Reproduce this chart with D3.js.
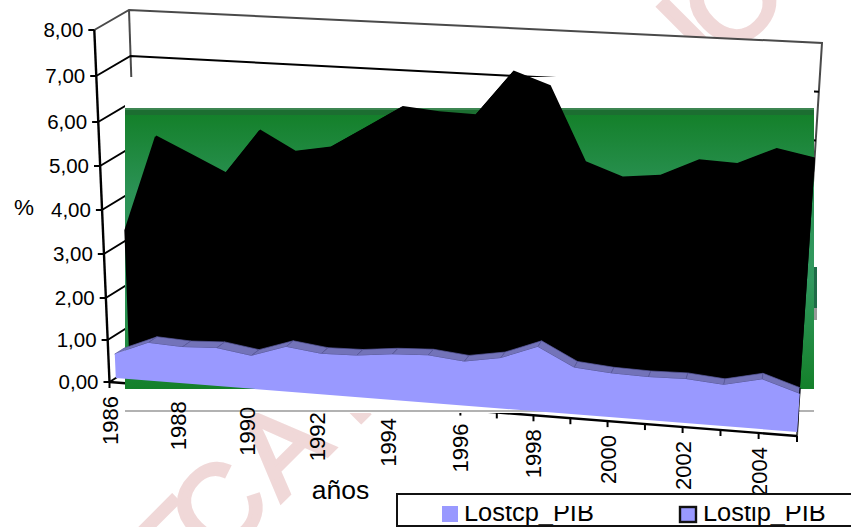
<!DOCTYPE html>
<html>
<head>
<meta charset="utf-8">
<script src="https://cdn.jsdelivr.net/npm/d3@7/dist/d3.min.js"></script>
<style>
  html, body { margin: 0; padding: 0; background: #fff; }
  svg { display: block; }
  text { font-family: "Liberation Sans", Arial, sans-serif; fill: #000; }
</style>
</head>
<body>
<script>
const years = d3.range(1986, 2006);
const labelledYears = years.filter(y => y % 2 === 0);
const valueTicks = [0, 1, 2, 3, 4, 5, 6, 7, 8];
const valueTickLabels = ["0,00", "1,00", "2,00", "3,00", "4,00", "5,00", "6,00", "7,00", "8,00"];
const lostipPib = [3.25, 5.43, 5.06, 4.69, 5.70, 5.27, 5.41, 5.90, 6.38, 6.31, 6.29, 7.25, 6.98, 5.41, 5.12, 5.21, 5.59, 5.56, 5.93, 5.77];
const lostcpPib = [0.57, 0.90, 0.86, 0.90, 0.78, 1.05, 0.95, 0.97, 1.06, 1.10, 1.02, 1.16, 1.48, 1.07, 1.00, 0.98, 1.00, 0.93, 1.12, 0.86];
const legendNames = ["Lostcp_PIB", "Lostip_PIB"];
const stampLetters = ["E", "C", "A", "I", "I", "O"];

const width = 851, height = 527;
const svg = d3.select("body").append("svg").attr("width", width).attr("height", height);

// Oblique box: a year, a value and a depth (0 front, 1 back wall) map to one screen point.
const along = d3.scaleLinear().domain([1986, 2005]).range([0, 1]);
const foreshorten = t => t - 0.064 * t * (1 - t);
const valueHeight = d3.scaleLinear().domain(valueTicks).range([0, 42, 84, 128, 172, 216, 260, 306, 352]);
const frontX = d3.scaleLinear().domain([0, 1]).range([109.5, 797]);
const backX = d3.scaleLinear().domain([0, 1]).range([141, 798]);
const frontY = d3.scaleLinear().domain([0, 1]).range([382, 436]);
const backY = d3.scaleLinear().domain([0, 1]).range([362, 416]);

function project(year, value, depth) {
  const s = foreshorten(along(year));
  const lean = (-1.9 + 0.4 * depth) * (1 - s) + 3 * s;
  return [
    frontX(s) + (backX(s) - frontX(s)) * depth + value * lean,
    frontY(s) + (backY(s) - frontY(s)) * depth - valueHeight(value) * (1 + 0.06 * s)
  ];
}

const path = d3.line();
const lineColor = "#000";
const frameColor = "#4a4a4a";

// Pale diagonal stamp behind the chart
const stampAt = [[206, 574], [246, 535], [308, 475], [365, 418], [718, 59], [761, 28]];
svg.append("g").selectAll("text").data(stampLetters).join("text")
  .attr("transform", (d, i) => `translate(${stampAt[i]}) rotate(-45)`)
  .attr("text-anchor", "middle")
  .style("font-size", "115px")
  .style("fill", "#f0d8d8")
  .style("stroke", "#f0d8d8")
  .style("stroke-width", 4)
  .text(d => d);

// White walls
const floorFront = [project(1986, 0, 0), project(2005, 0, 0)];
const wallOutline = [project(1986, 0, 0), project(1986, 8, 0), project(1986, 8, 1), project(2005, 8, 1), project(2005, 0, 1), project(2005, 0, 0)];
svg.append("path").attr("d", path(wallOutline) + "Z").attr("fill", "#fff");

// Wall frame
svg.append("path").attr("fill", "none").attr("stroke", frameColor).attr("stroke-width", 2)
  .attr("d", path([project(1986, 8, 0), project(1986, 8, 1), project(2005, 8, 1), project(2005, 0, 1), project(2005, 0, 0)]));
svg.append("path").attr("fill", "none").attr("stroke", frameColor).attr("stroke-width", 2)
  .attr("d", path([project(1986, 8, 1), project(1986, 0, 1)]));

// Gridlines running over the side wall and the back wall
const grid = valueTicks.filter(v => v > 0 && v < 8);
svg.append("g").selectAll("path").data(grid).join("path")
  .attr("fill", "none").attr("stroke", lineColor).attr("stroke-width", 2)
  .attr("d", v => path([project(1986, v, 0), project(1986, v, 1), project(2005, v, 1)]));
svg.append("path").attr("fill", "none").attr("stroke", lineColor).attr("stroke-width", 2)
  .attr("d", path([project(1986, 0, 0), project(1986, 0, 1)]));

// Value axis
svg.append("path").attr("fill", "none").attr("stroke", lineColor).attr("stroke-width", 2.4)
  .attr("d", path([project(1986, 0, 0), project(1986, 8, 0)]));
const yTicks = svg.append("g").selectAll("g").data(valueTicks).join("g")
  .attr("transform", v => `translate(${project(1986, v, 0)})`);
yTicks.append("line").attr("x1", -6).attr("x2", 0).attr("stroke", lineColor).attr("stroke-width", 2);
yTicks.append("text").attr("x", -11).attr("dy", "0.35em").attr("text-anchor", "end")
  .style("font-size", "20.5px").text((v, i) => valueTickLabels[i]);

// Year axis
svg.append("path").attr("fill", "none").attr("stroke", lineColor).attr("stroke-width", 2.4).attr("d", path(floorFront));
svg.append("g").selectAll("line").data(years).join("line")
  .attr("stroke", lineColor).attr("stroke-width", 2)
  .attr("x1", y => project(y, 0, 0)[0]).attr("x2", y => project(y, 0, 0)[0])
  .attr("y1", y => project(y, 0, 0)[1]).attr("y2", y => project(y, 0, 0)[1] + 6);

// White panel with the green plate on top of it
const defs = svg.append("defs");
const plate = defs.append("linearGradient").attr("id", "plate").attr("x1", 0).attr("x2", 0).attr("y1", 0).attr("y2", 1);
plate.append("stop").attr("offset", "0%").attr("stop-color", "#14802a");
plate.append("stop").attr("offset", "28%").attr("stop-color", "#2b9255");
plate.append("stop").attr("offset", "60%").attr("stop-color", "#31995f");
plate.append("stop").attr("offset", "100%").attr("stop-color", "#14802a");
svg.append("rect").attr("x", 125).attr("y", 77).attr("width", 689).attr("height", 336).attr("fill", "#fff");
svg.append("rect").attr("x", 125).attr("y", 114).attr("width", 689).attr("height", 275).attr("fill", "url(#plate)");
svg.append("rect").attr("x", 125).attr("y", 108).attr("width", 689).attr("height", 2).attr("fill", "#3d8652");
svg.append("rect").attr("x", 125).attr("y", 110).attr("width", 689).attr("height", 5).attr("fill", "#1c6e31");
svg.append("line").attr("x1", 125).attr("x2", 814).attr("y1", 411).attr("y2", 411).attr("stroke", "#999").attr("stroke-width", 1.4);
svg.append("rect").attr("x", 814).attr("y", 267).attr("width", 3).attr("height", 41).attr("fill", "#1f6b48");
svg.append("rect").attr("x", 814).attr("y", 308).attr("width", 3).attr("height", 12).attr("fill", "#999");

// Rear series: extruded black area
function areaOutline(values, depth) {
  return values.map((v, i) => project(years[i], v, depth))
    .concat([project(2005, 0, depth), project(1986, 0, depth)]);
}
svg.append("path").attr("fill", "#000").attr("d", path(areaOutline(lostipPib, 0.68)) + "Z");
svg.append("path").attr("fill", "#000").attr("d", path(areaOutline(lostipPib, 0.64)) + "Z");

// Front series: top surface strips, end cap and front face
const faceDepth = 0.2, ridgeDepth = 0.5;
svg.append("g").selectAll("path").data(d3.pairs(years.map((y, i) => [y, lostcpPib[i]]))).join("path")
  .attr("fill", "#7373b9").attr("stroke", "#5a5a9e").attr("stroke-width", 0.7)
  .attr("d", ([a, b]) => path([
    project(a[0], a[1], faceDepth), project(b[0], b[1], faceDepth),
    project(b[0], b[1], ridgeDepth), project(a[0], a[1], ridgeDepth)
  ]) + "Z");
svg.append("path").attr("fill", "#000").attr("stroke", "#000").attr("stroke-width", 1.2)
  .attr("d", path([
    project(2005, 0, faceDepth), project(2005, lostcpPib[19], faceDepth),
    project(2005, lostcpPib[19], ridgeDepth), project(2005, 0, ridgeDepth)
  ]) + "Z");
svg.append("path").attr("fill", "#9999ff").attr("d", path(areaOutline(lostcpPib, faceDepth)) + "Z");

// Year labels
svg.append("g").selectAll("text").data(labelledYears).join("text")
  .attr("transform", y => {
    const [x, yy] = project(y, 0, 0);
    return `translate(${x + 8},${yy + 14}) rotate(-90)`;
  })
  .attr("text-anchor", "end")
  .style("font-size", "22px")
  .text(y => y);

// Axis titles
svg.append("text").attr("x", 24).attr("y", 215).attr("text-anchor", "middle").style("font-size", "22.5px").text("%");
svg.append("text").attr("x", 340.5).attr("y", 499).attr("text-anchor", "middle").style("font-size", "26.5px").text("años");

// Legend, its box sliced by the lower edge of the page area
const legend = svg.append("g");
legend.append("rect").attr("x", 397).attr("y", 494).attr("width", 470).attr("height", 32)
  .attr("fill", "#fff").attr("stroke", "#111").attr("stroke-width", 2);
defs.append("clipPath").attr("id", "legendText").append("rect").attr("x", 398).attr("y", 506).attr("width", 453).attr("height", 19);
const swatchX = [442, 679], nameX = [464, 703];
legend.selectAll("rect.swatch").data(legendNames).join("rect").attr("class", "swatch")
  .attr("x", (d, i) => swatchX[i] + (i ? 1 : 0)).attr("y", (d, i) => 506 + (i ? 1 : 0))
  .attr("width", 16).attr("height", (d, i) => i ? 15 : 16)
  .attr("fill", "#9999ff")
  .attr("stroke", (d, i) => i ? "#111" : "none").attr("stroke-width", 2.4);
legend.append("g").attr("clip-path", "url(#legendText)")
  .selectAll("text").data(legendNames).join("text")
  .attr("x", (d, i) => nameX[i]).attr("y", 521).style("font-size", "25.4px").text(d => d);
</script>
</body>
</html>
